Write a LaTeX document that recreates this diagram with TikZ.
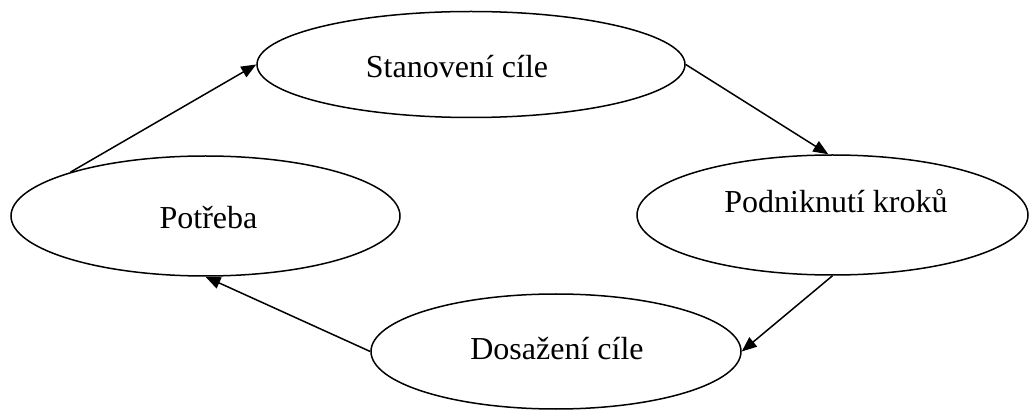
\documentclass[tikz,border=0pt]{standalone}
\usepackage{fontspec}
\setmainfont{Liberation Serif}
\usetikzlibrary{shapes.geometric,arrows.meta}
\begin{document}
\begin{tikzpicture}[x=1pt,y=1pt,
  ell/.style={ellipse,draw=black,line width=1.5pt,inner sep=0pt,fill=white},
  lbl/.style={anchor=base,inner sep=0pt,font=\fontsize{32}{38}\selectfont},
  conn/.style={draw=black,line width=1.5pt,-{Triangle[length=15pt,width=12pt]}}]
\useasboundingbox (0,0) rectangle (1029,410);
\node[ell,minimum width=428pt,minimum height=106pt] (stan) at (471,345.5) {};
\node[ell,minimum width=389pt,minimum height=120pt] (pot) at (205.5,194) {};
\node[ell,minimum width=391pt,minimum height=120pt] (pod) at (832.5,195) {};
\node[ell,minimum width=370pt,minimum height=115pt] (dos) at (556,58.5) {};
\node[lbl] (stanT) at (457,332.3) {Stanovení cíle};
\node[lbl] (potT) at (208.5,181) {Potřeba};
\node[lbl] (podT) at (836,197.3) {Podniknutí kroků};
\node[lbl] (dosT) at (557,50) {Dosažení cíle};
\draw[conn] (pot.162) -- (stan.west);
\draw[conn] (stan.east) -- (pod.94);
\draw[conn] (pod.south) -- (dos.east);
\draw[conn] (dos.west) -- (pot.south);
\end{tikzpicture}
\end{document}
